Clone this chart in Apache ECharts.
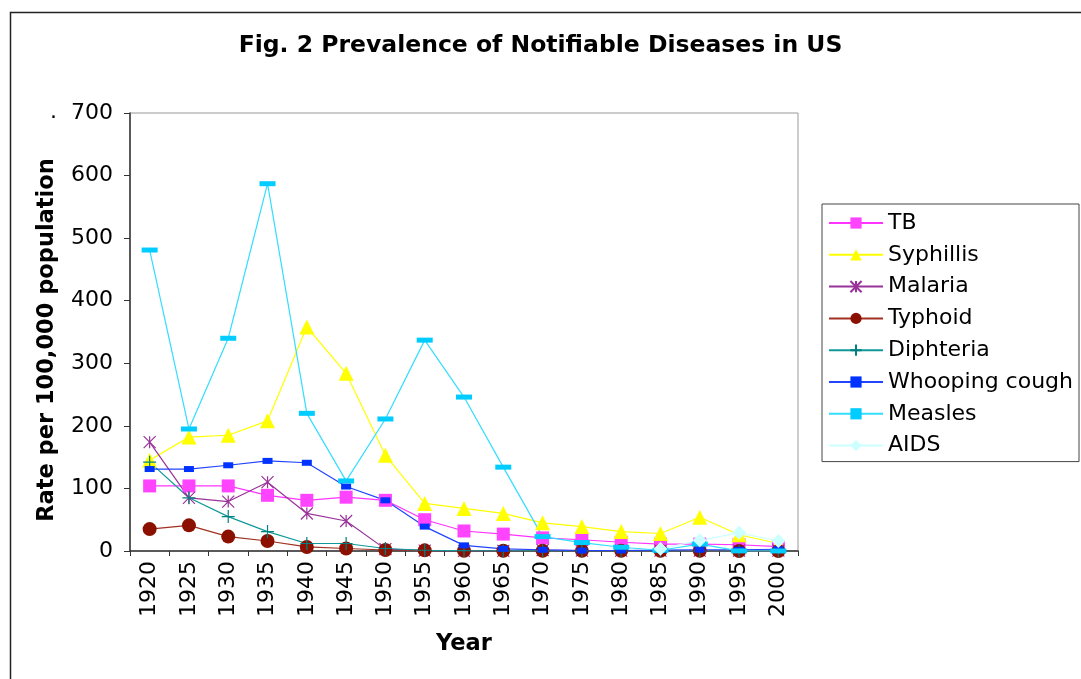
<!DOCTYPE html>
<html>
<head>
<meta charset="utf-8">
<script src="https://cdn.jsdelivr.net/npm/echarts@6/dist/echarts.min.js"></script>
<style>
html,body{margin:0;padding:0;background:#fff;}
#chart{width:1081px;height:679px;}
</style>
</head>
<body>
<div id="chart"></div>
<script>
const years = ['1920','1925','1930','1935','1940','1945','1950','1955','1960','1965','1970','1975','1980','1985','1990','1995','2000'];
const tb = [104, 104, 104, 89, 81, 86, 81, 50, 32, 27, 21, 18, 14, 11, 11, 10, 7];
const syphillis = [145, 182, 185, 208, 358, 284, 153, 76, 68, 60, 45, 39, 31, 28, 54, 26, 12];
const malaria = [174, 85, 79, 110, 60, 48, 3, 0.5, 0.1, 0.1, 1.5, 0.5, 0.6, 0.5, 0.5, 0.5, 0.5];
const typhoid = [35, 41, 23, 16, 6.5, 4, 1.6, 1, 0.5, 0.3, 0.2, 0.2, 0.2, 0.2, 0.2, 0.1, 0.1];
const diphteria = [142, 85, 55, 31, 12, 12, 4, 1.2, 0.5, 0.1, 0.2, 0.1, 0, 0, 0, 0, 0];
const whooping = [131, 131, 137, 144, 141, 103, 81, 39, 9, 3.5, 2, 0.7, 0.8, 1.5, 2, 2, 2.8];
const measles = [481, 195, 340, 587, 220, 112, 211, 337, 246, 134, 23, 13.5, 6, 1.2, 11, 0.2, 0.03];
const aids = [null, null, null, null, null, null, null, null, null, null, null, null, null, 3.4, 17, 29, 16];

const FONT = 'DejaVu Sans';
const ASTERISK = 'path://M0,0L10,10M10,0L0,10M5,0L5,10';
const PLUS = 'path://M5,0L5,10M0,5L10,5';

function mk(name, data, lineColor, symbol, size, fill, stroke) {
  const s = {
    name: name, type: 'line', data: data,
    symbol: symbol, symbolSize: size, showSymbol: true,
    connectNulls: false,
    lineStyle: {color: lineColor, width: 1.2},
    itemStyle: {color: fill},
    emphasis: {disabled: true},
    animation: false
  };
  if (stroke) {
    s.itemStyle = {color: 'rgba(0,0,0,0)', borderColor: stroke, borderWidth: 1.2};
  }
  return s;
}

const chart = echarts.init(document.getElementById('chart'), null, {renderer: 'canvas'});
chart.setOption({
  backgroundColor: '#fff',
  animation: false,
  title: {
    text: 'Fig. 2 Prevalence of Notifiable Diseases in US',
    left: 'center', top: 29, padding: [5, 0, 5, 33],
    textStyle: {fontFamily: FONT, fontWeight: 'bold', fontSize: 23.5, color: '#000'}
  },
  legend: {
    orient: 'vertical', left: 822, top: 204,
    padding: [8, 6, 5, 6],
    itemWidth: 54, itemHeight: 14, itemGap: 9.8,
    borderColor: '#444', borderWidth: 1, backgroundColor: '#fff',
    textStyle: {fontFamily: FONT, fontSize: 22, color: '#000', lineHeight: 20},
    data: ['TB','Syphillis','Malaria','Typhoid','Diphteria','Whooping cough','Measles','AIDS']
  },
  grid: {left: 130, right: 283, top: 113, bottom: 128, show: true, borderColor: '#999', borderWidth: 1, backgroundColor: '#fff'},
  xAxis: {
    type: 'category', data: years, boundaryGap: true,
    name: 'Year', nameLocation: 'middle', nameGap: 82,
    nameTextStyle: {fontFamily: FONT, fontWeight: 'bold', fontSize: 22.5, color: '#000'},
    axisLine: {lineStyle: {color: '#333', width: 1.5}},
    axisTick: {show: true, length: 5, inside: false, alignWithLabel: false, interval: 0, lineStyle: {color: '#333'}},
    axisLabel: {rotate: 90, interval: 0, margin: 10, fontFamily: FONT, fontSize: 22, color: '#000'},
    splitLine: {show: false}
  },
  yAxis: {
    type: 'value', min: 0, max: 700, interval: 100,
    name: 'Rate per 100,000 population', nameLocation: 'middle', nameGap: 71, nameRotate: 90,
    nameTextStyle: {fontFamily: FONT, fontWeight: 'bold', fontSize: 22.5, color: '#000', padding: [0, 16, 0, 0]},
    axisLine: {show: true, lineStyle: {color: '#333', width: 1.5}},
    axisTick: {show: true, length: 6, inside: false, lineStyle: {color: '#333'}},
    axisLabel: {margin: 17, fontFamily: FONT, fontSize: 22, color: '#000'},
    splitLine: {show: false}
  },
  graphic: [
    {type: 'rect', left: 8, top: 10, shape: {width: 1100, height: 700}, style: {fill: 'none', stroke: '#222', lineWidth: 1.5}, silent: true, z: 100},
    {type: 'text', left: 50, top: 101, style: {text: '.', font: '22px "DejaVu Sans"', fill: '#000'}, silent: true}
  ],
  series: [
    mk('TB', tb, '#ff33ff', 'rect', 13, '#ff44ff'),
    mk('Syphillis', syphillis, '#ffff00', 'triangle', 15, '#ffff00'),
    mk('Malaria', malaria, '#993399', ASTERISK, 12, null, '#993399'),
    mk('Typhoid', typhoid, '#a03020', 'circle', 14, '#8b1000'),
    mk('Diphteria', diphteria, '#119999', PLUS, 13, null, '#008080'),
    mk('Whooping cough', whooping, '#2244ff', 'rect', [10, 6], '#0033ff'),
    mk('Measles', measles, '#33ddff', 'rect', [16, 5], '#00ccff'),
    mk('AIDS', aids, '#ccffff', 'diamond', 14, '#ccffff')
  ]
});
</script>
</body>
</html>
